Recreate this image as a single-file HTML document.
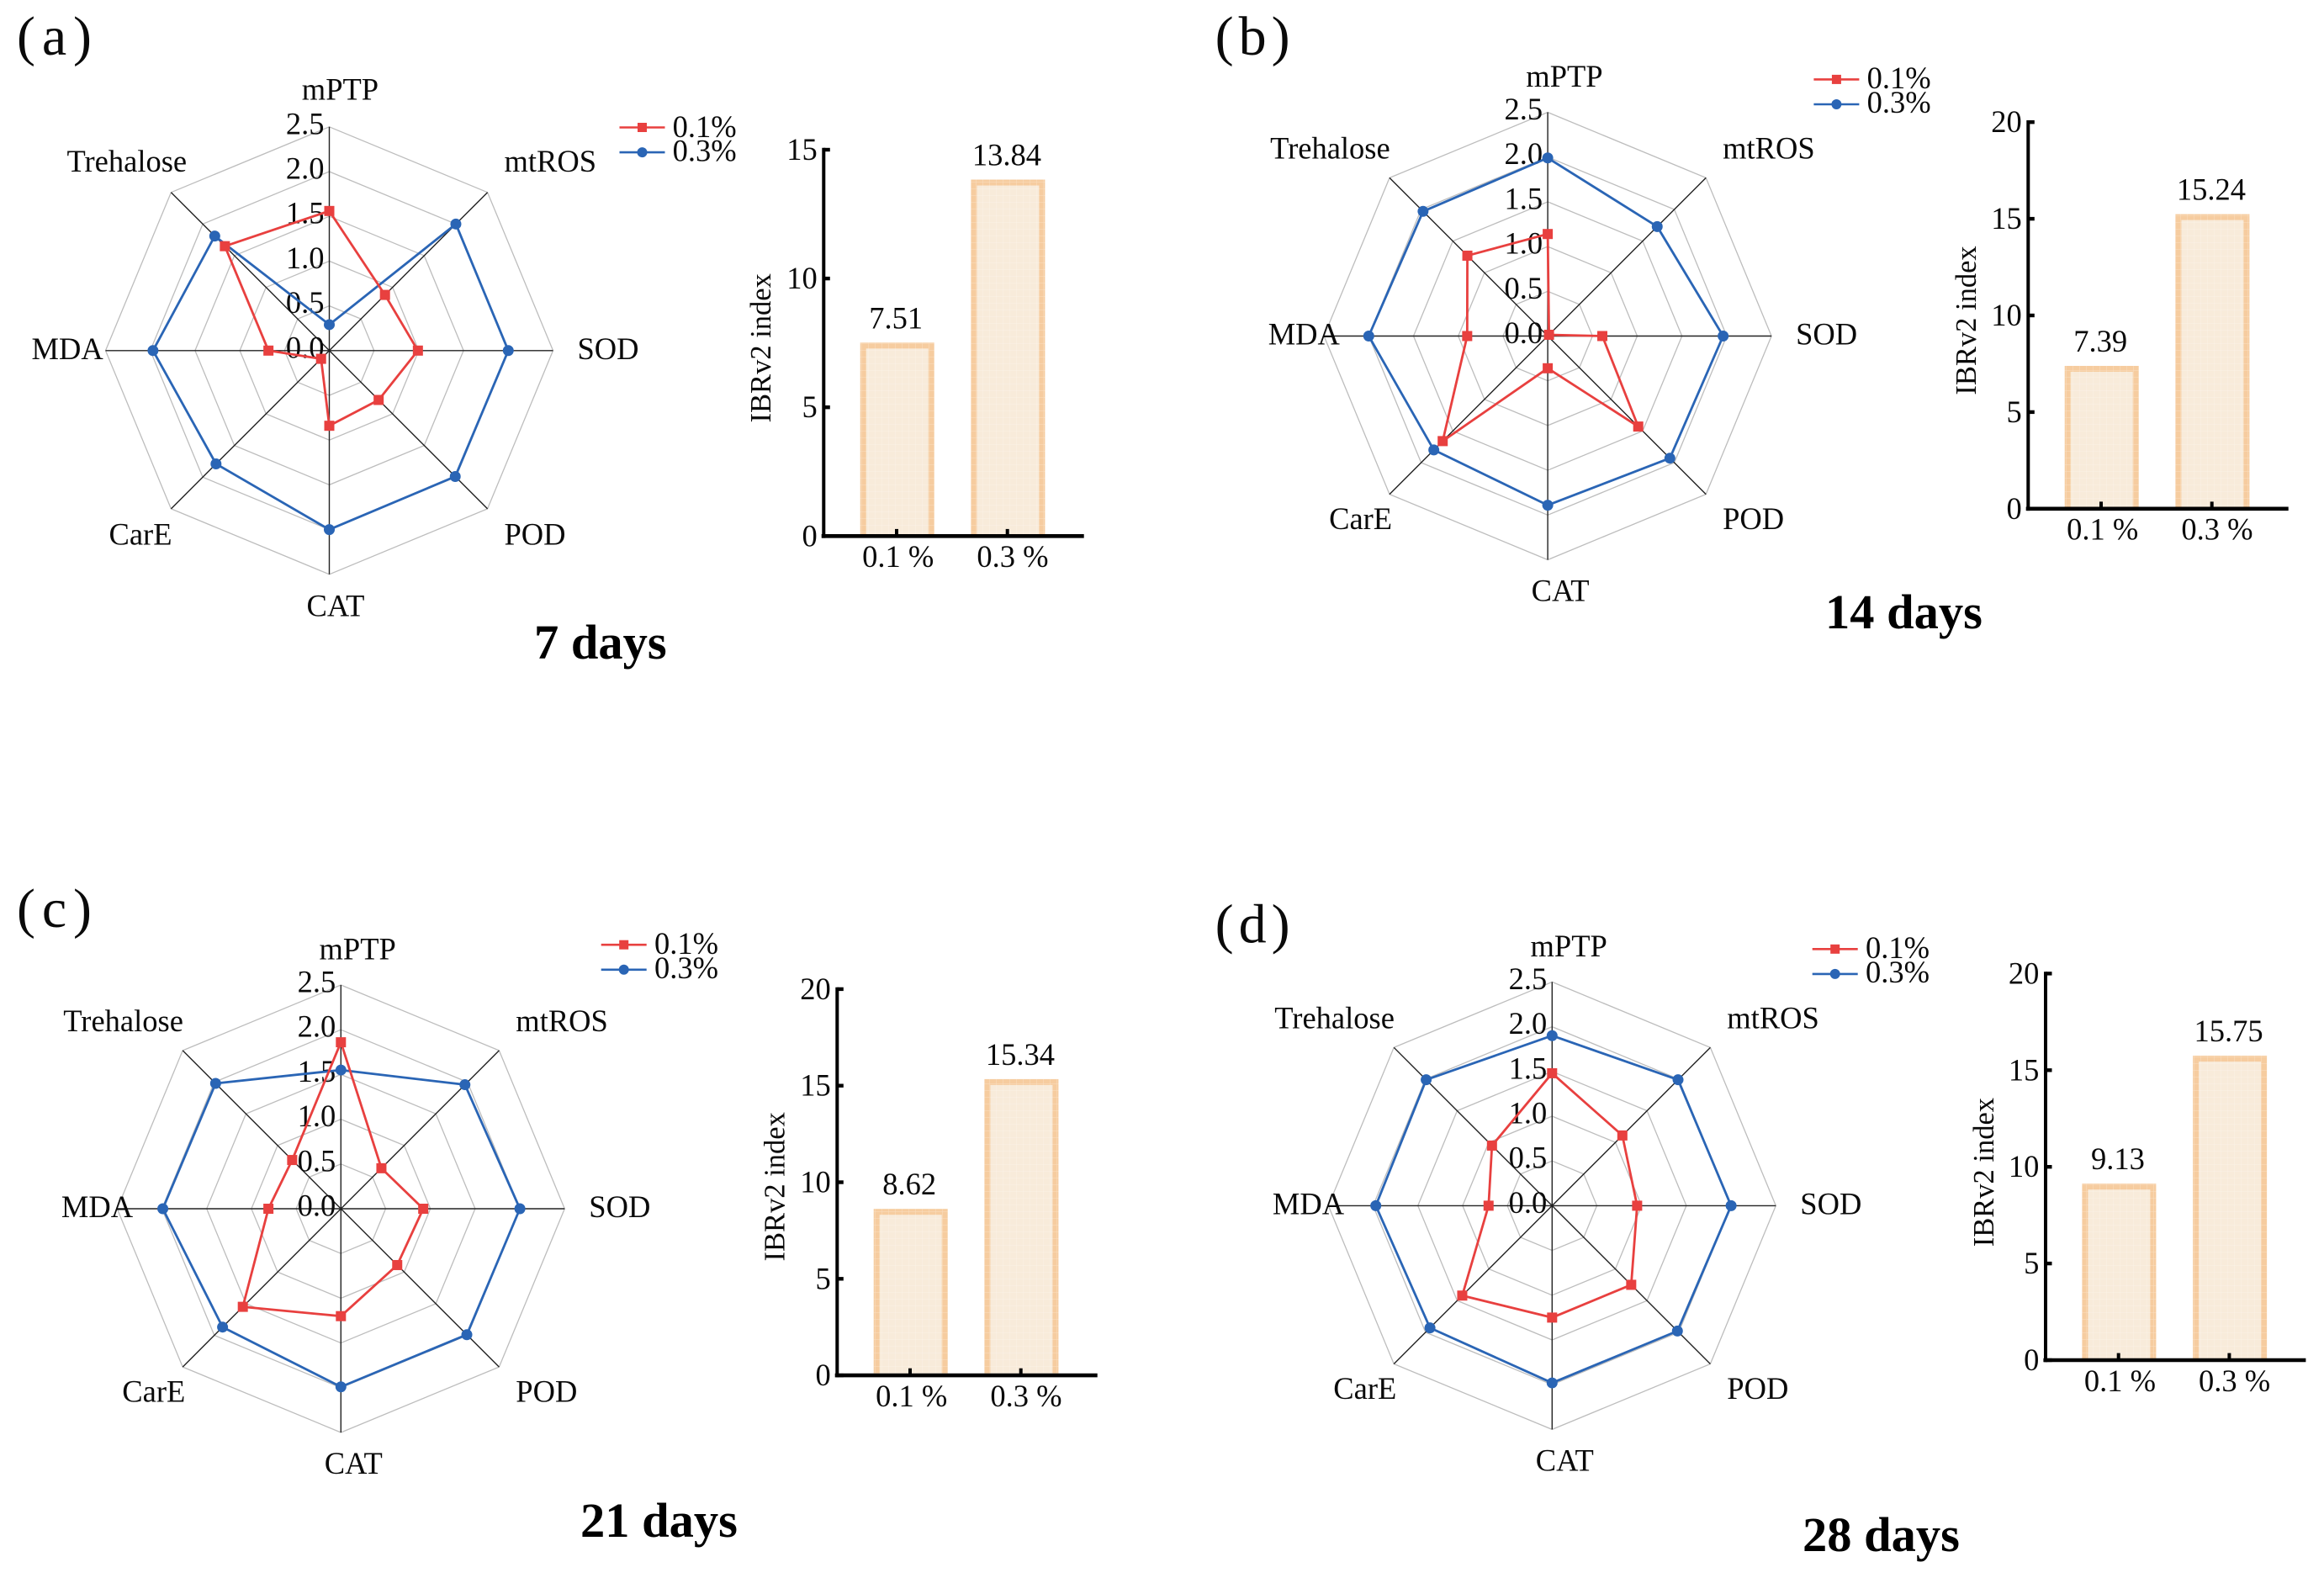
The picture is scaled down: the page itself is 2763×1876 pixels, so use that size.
<!DOCTYPE html>
<html lang="en">
<head>
<meta charset="utf-8">
<title>IBRv2 radar and bar charts</title>
<style>
  html, body { margin: 0; padding: 0; background: #fff; }
  svg { display: block; }
  text { font-family: "Liberation Serif", "Times New Roman", serif; fill: #0a0a0a; }
  .lbl { font-size: 36.5px; }
  .panel-tag { font-size: 66px; }
  .days { font-size: 58.5px; font-weight: bold; fill: #000; }
</style>
</head>
<body>
<svg id="figure" width="2763" height="1876" viewBox="0 0 2763 1876" xmlns="http://www.w3.org/2000/svg">
  <defs>
    <pattern id="barTexture" width="8" height="8" patternUnits="userSpaceOnUse">
      <path d="M8 0H0V8" fill="none" stroke="#ffffff" stroke-opacity="0.35" stroke-width="1"/>
    </pattern>
  </defs>
  <rect width="2763" height="1876" fill="#ffffff"/>

  <text class="panel-tag" x="20" y="65" textLength="89">( a )</text>
  <text class="panel-tag" x="1444.6" y="65" textLength="89">( b )</text>
  <text class="panel-tag" x="20" y="1102" textLength="89">( c )</text>
  <text class="panel-tag" x="1444.6" y="1120.6" textLength="89">( d )</text>

  <text class="days" x="635" y="783">7 days</text>
  <text class="days" x="2170" y="747">14 days</text>
  <text class="days" x="690" y="1827">21 days</text>
  <text class="days" x="2143" y="1844">28 days</text>

  <text class="lbl" x="799.6" y="163">0.1%</text>
  <text class="lbl" x="799.6" y="191.6">0.3%</text>
  <text class="lbl" x="2219.6" y="105">0.1%</text>
  <text class="lbl" x="2219.6" y="134">0.3%</text>
  <text class="lbl" x="778" y="1134">0.1%</text>
  <text class="lbl" x="778" y="1163">0.3%</text>
  <text class="lbl" x="2218" y="1139">0.1%</text>
  <text class="lbl" x="2218" y="1168">0.3%</text>

  <text class="lbl" transform="translate(916,413.8) rotate(-90)" text-anchor="middle" style="font-size:34.5px">IBRv2 index</text>
  <text class="lbl" transform="translate(2349,381) rotate(-90)" text-anchor="middle" style="font-size:34.5px">IBRv2 index</text>
  <text class="lbl" transform="translate(932.7,1410.8) rotate(-90)" text-anchor="middle" style="font-size:34.5px">IBRv2 index</text>
  <text class="lbl" transform="translate(2370,1393.6) rotate(-90)" text-anchor="middle" style="font-size:34.5px">IBRv2 index</text>
</svg>

<script>
/* ---------- chart data ---------- */
const categories = ['mPTP', 'mtROS', 'SOD', 'POD', 'CAT', 'CarE', 'MDA', 'Trehalose'];
const radialTicks = [0, 0.5, 1, 1.5, 2, 2.5];
const radialTickLabels = ['0.0', '0.5', '1.0', '1.5', '2.0', '2.5'];

const low7 = [1.56, 0.88, 0.99, 0.78, 0.84, 0.13, 0.68, 1.65];
const high7 = [0.29, 2.0, 2.0, 1.99, 2.0, 1.79, 1.97, 1.81];
const low14 = [1.14, 0.02, 0.61, 1.43, 0.36, 1.66, 0.9, 1.27];
const high14 = [1.99, 1.73, 1.96, 1.93, 1.89, 1.8, 2.0, 1.97];
const low21 = [1.86, 0.64, 0.92, 0.89, 1.2, 1.55, 0.81, 0.77];
const high21 = [1.55, 1.96, 2.0, 1.99, 1.99, 1.87, 1.99, 1.98];
const low28 = [1.48, 1.11, 0.95, 1.25, 1.25, 1.42, 0.71, 0.95];
const high28 = [1.9, 1.99, 2.0, 1.98, 1.98, 1.93, 1.97, 1.99];

const barCategories = ['0.1 %', '0.3 %'];
const ibr7 = [7.51, 13.84];
const ibr14 = [7.39, 15.24];
const ibr21 = [8.62, 15.34];
const ibr28 = [9.13, 15.75];
const barTicks7 = [0, 5, 10, 15];
const barTicksOther = [0, 5, 10, 15, 20];

/* ---------- layout ---------- */
const SVG_NS = 'http://www.w3.org/2000/svg';
const svg = document.getElementById('figure');
const RADIUS = 266;
const RADAR_MAX = 2.5;
const RED = '#e8403f';
const BLUE = '#2a65b5';

const labelOffsetsA = [[-32.7, -298.5], [208, -212.8], [295, 10], [208, 230.6], [-27, 315.8], [-262, 230.6], [-354, 10], [-312, -212.8]];
const labelOffsetsRest = [[-25.8, -296.4], [208, -211], [295, 10], [208, 229.6], [-19.5, 315], [-260, 229.6], [-332.4, 10], [-330, -211]];

const panels = [
  { id: 'a', cx: 391.5, cy: 416.8, low: low7, high: high7, offsets: labelOffsetsA, legendX: 736.5, legendY: 151.5,
    axisX: 979.3, zeroY: 637.3, barH: 459.3, barMax: 15, ticks: barTicks7, ibr: ibr7 },
  { id: 'b', cx: 1840.1, cy: 399.5, low: low14, high: high14, offsets: labelOffsetsRest, legendX: 2156.4, legendY: 94.4,
    axisX: 2411.3, zeroY: 604.8, barH: 459.6, barMax: 20, ticks: barTicksOther, ibr: ibr14 },
  { id: 'c', cx: 405.3, cy: 1437, low: low21, high: high21, offsets: labelOffsetsRest, legendX: 714.7, legendY: 1123.2,
    axisX: 995.3, zeroY: 1635.1, barH: 459.2, barMax: 20, ticks: barTicksOther, ibr: ibr21 },
  { id: 'd', cx: 1845.3, cy: 1433.4, low: low28, high: high28, offsets: labelOffsetsRest, legendX: 2154.7, legendY: 1128.3,
    axisX: 2432, zeroY: 1617, barH: 459.6, barMax: 20, ticks: barTicksOther, ibr: ibr28 }
];

function mk(tag, attrs, parent, text) {
  const n = document.createElementNS(SVG_NS, tag);
  for (const k in attrs) n.setAttribute(k, attrs[k]);
  if (text !== undefined) n.textContent = text;
  parent.appendChild(n);
  return n;
}

function polar(p, i, value) {
  const angle = (i / categories.length) * 2 * Math.PI;
  const r = (value / RADAR_MAX) * RADIUS;
  return [p.cx + r * Math.sin(angle), p.cy - r * Math.cos(angle)];
}

function drawSeries(p, g, values, color, square, name) {
  const pts = values.map((v, i) => polar(p, i, v));
  const line = mk('polygon', { points: pts.map(q => q.join(',')).join(' '), fill: 'none', stroke: color, 'stroke-width': 2.8, 'stroke-linejoin': 'round' }, g);
  
  
  pts.forEach((q, i) => {
    const mark = square
      ? mk('rect', { x: q[0] - 6, y: q[1] - 6, width: 12, height: 12, fill: color }, g)
      : mk('circle', { cx: q[0], cy: q[1], r: 6.5, fill: color }, g);
    
    
  });
}

function drawRadar(p) {
  const g = mk('g', {}, svg);
  
  

  radialTicks.slice(1).forEach(t => {
    const ring = mk('polygon', { points: categories.map((c, i) => polar(p, i, t).join(',')).join(' '), fill: 'none', stroke: '#bdbdbd', 'stroke-width': 1.3 }, g);
    
    
  });

  categories.forEach((c, i) => {
    const end = polar(p, i, RADAR_MAX);
    const spoke = mk('line', { x1: p.cx, y1: p.cy, x2: end[0], y2: end[1], stroke: '#222', 'stroke-width': 1.4 }, g);
    
    
    const off = p.offsets[i];
    const label = mk('text', { class: 'lbl', x: p.cx + off[0], y: p.cy + off[1] }, g, c);
    
    
  });

  radialTicks.forEach((t, i) => {
    const tickLabel = mk('text', { class: 'lbl', x: p.cx - 6, y: polar(p, 0, t)[1] + 8.5, 'text-anchor': 'end' }, g, radialTickLabels[i]);
    
    
  });

  drawSeries(p, g, p.high, BLUE, false, 'series-0-3-percent');
  drawSeries(p, g, p.low, RED, true, 'series-0-1-percent');

  [[p.legendY, RED, true, 'legend-entry-low'], [p.legendY + 29.6, BLUE, false, 'legend-entry-high']].forEach(e => {
    const key = mk('line', { x1: p.legendX, y1: e[0], x2: p.legendX + 54, y2: e[0], stroke: e[1], 'stroke-width': 2.6 }, g);
    
    
    const mx = p.legendX + 27;
    const mark = e[2]
      ? mk('rect', { x: mx - 5.5, y: e[0] - 5.5, width: 11, height: 11, fill: e[1] }, g)
      : mk('circle', { cx: mx, cy: e[0], r: 6, fill: e[1] }, g);
    
    
  });
}

function drawBars(p) {
  const g = mk('g', {}, svg);
  
  
  const y = v => p.zeroY - (v / p.barMax) * p.barH;
  const xCenter = i => p.axisX + 87.4 + i * 131.7;
  const BAR_W = 88;
  const BORDER = 7;

  p.ibr.forEach((v, i) => {
    const cx = xCenter(i);
    const top = y(v);
    const outer = mk('rect', { x: cx - BAR_W / 2, y: top, width: BAR_W, height: p.zeroY - top, fill: '#f6cc9f' }, g);
    
    
    const inner = mk('rect', { x: cx - BAR_W / 2 + BORDER, y: top + BORDER, width: BAR_W - 2 * BORDER, height: p.zeroY - top - BORDER, fill: '#f8ebda' }, g);
    
    
    const tex = mk('rect', { x: cx - BAR_W / 2, y: top, width: BAR_W, height: p.zeroY - top, fill: 'url(#barTexture)' }, g);
    
    
    const value = mk('text', { class: 'lbl', x: cx - 1.5, y: top - 17, 'text-anchor': 'middle' }, g, v.toFixed(2));
    
    
    const tick = mk('line', { x1: cx - 0.7, y1: p.zeroY, x2: cx - 0.7, y2: p.zeroY - 8.4, stroke: '#000', 'stroke-width': 4 }, g);
    
    
    const cat = mk('text', { class: 'lbl', x: cx + 1 + i * 4.5, y: p.zeroY + 36.8, 'text-anchor': 'middle' }, g, barCategories[i]);
    
    
  });

  const yAxis = mk('line', { x1: p.axisX, y1: y(p.barMax) - 2.2, x2: p.axisX, y2: p.zeroY + 2.3, stroke: '#000', 'stroke-width': 4 }, g);
  
  
  const xAxis = mk('line', { x1: p.axisX - 2.6, y1: p.zeroY, x2: p.axisX + 309.4, y2: p.zeroY, stroke: '#000', 'stroke-width': 4.6 }, g);
  
  

  p.ticks.forEach(t => {
    const tick = mk('line', { x1: p.axisX, y1: y(t), x2: p.axisX + 7.5, y2: y(t), stroke: '#000', 'stroke-width': 4.4 }, g);
    
    
    const label = mk('text', { class: 'lbl', x: p.axisX - 7.6, y: y(t) + 12, 'text-anchor': 'end' }, g, String(t));
    
    
  });
}

panels.forEach(p => {
  drawRadar(p);
  drawBars(p);
});
</script>
</body>
</html>
